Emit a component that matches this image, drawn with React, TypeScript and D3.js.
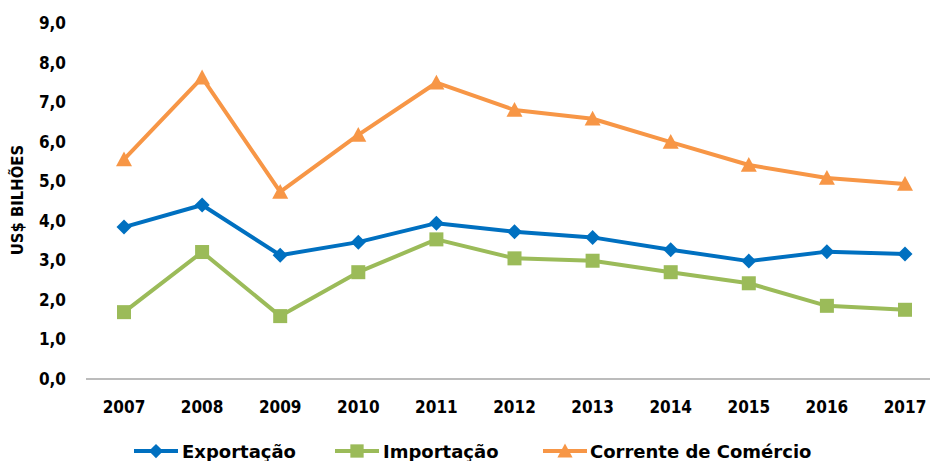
import React from "react";
import * as d3 from "d3";

const years = ["2007","2008","2009","2010","2011","2012","2013","2014","2015","2016","2017"];
const exportacao = [3.84, 4.40, 3.13, 3.46, 3.94, 3.72, 3.58, 3.27, 2.98, 3.22, 3.16];
const importacao = [1.69, 3.21, 1.59, 2.70, 3.53, 3.05, 2.99, 2.70, 2.42, 1.85, 1.75];
const corrente = [5.55, 7.62, 4.73, 6.17, 7.49, 6.80, 6.58, 5.99, 5.41, 5.08, 4.93];
const yTicks = [0, 1, 2, 3, 4, 5, 6, 7, 8, 9];
const seriesNames = ["Exportação", "Importação", "Corrente de Comércio"];

const W = 930, H = 461;
const tickFont = "'Liberation Sans Narrow', 'DejaVu Sans Condensed', sans-serif";
const legendFont = "'DejaVu Sans', sans-serif";

export default function App() {
  const x = d3.scalePoint<string>().domain(years).range([124, 905]);
  const y = d3.scaleLinear().domain([0, 9]).range([379, 23]);
  const line = d3.line<number>().x((_, i) => x(years[i])!).y(d => y(d));

  const series = [
    { name: seriesNames[0], data: exportacao, color: "#0070C0", marker: "diamond" },
    { name: seriesNames[1], data: importacao, color: "#9BBB59", marker: "square" },
    { name: seriesNames[2], data: corrente, color: "#F79646", marker: "triangle" },
  ];

  const marker = (type: string, cx: number, cy: number, color: string, key: any, s = 1) => {
    if (type === "diamond") {
      const r = 7.5 * s;
      return <path key={key} d={`M${cx},${cy - r}L${cx + r},${cy}L${cx},${cy + r}L${cx - r},${cy}Z`} fill={color} />;
    }
    if (type === "square") {
      const r = 7 * s;
      return <rect key={key} x={cx - r} y={cy - r} width={2 * r} height={2 * r} fill={color} />;
    }
    const r = 8 * s;
    return <path key={key} d={`M${cx},${cy - r}L${cx + r},${cy + r * 0.85}L${cx - r},${cy + r * 0.85}Z`} fill={color} />;
  };

  const legendItems = [
    { lx: 134, tx: 182 },
    { lx: 335, tx: 383 },
    { lx: 543, tx: 590 },
  ];

  return (
    <svg width={W} height={H} style={{ position: "absolute", left: 0, top: 0, background: "#fff" }}>
      <line x1={86} x2={930} y1={y(0)} y2={y(0)} stroke="#A6A6A6" strokeWidth={1.5} />
      {yTicks.map(t => (
        <text key={t} x={66} y={y(t)} dy="0.35em" textAnchor="end" fontFamily={tickFont} fontWeight="bold" fontSize={17} fill="#000">
          {d3.format(".1f")(t).replace(".", ",")}
        </text>
      ))}
      {years.map(yr => (
        <text key={yr} x={x(yr)} y={413} textAnchor="middle" fontFamily={tickFont} fontWeight="bold" fontSize={17} fill="#000">
          {yr}
        </text>
      ))}
      <text transform={`translate(23,200) rotate(-90)`} textAnchor="middle" fontFamily={tickFont} fontWeight="bold" fontSize={16.5} fill="#000">
        US$ BILHÕES
      </text>
      {series.map(s => (
        <g key={s.name}>
          <path d={line(s.data)!} fill="none" stroke={s.color} strokeWidth={4} strokeLinejoin="round" />
          {s.data.map((v, i) => marker(s.marker, x(years[i])!, y(v), s.color, i))}
        </g>
      ))}
      {series.map((s, i) => (
        <g key={"lg" + s.name}>
          <line x1={legendItems[i].lx} x2={legendItems[i].lx + 44} y1={451} y2={451} stroke={s.color} strokeWidth={4} />
          {marker(s.marker, legendItems[i].lx + 22, 451, s.color, "m", 0.95)}
          <text x={legendItems[i].tx} y={458} fontFamily={legendFont} fontWeight="bold" fontSize={18} fill="#000">
            {s.name}
          </text>
        </g>
      ))}
    </svg>
  );
}
